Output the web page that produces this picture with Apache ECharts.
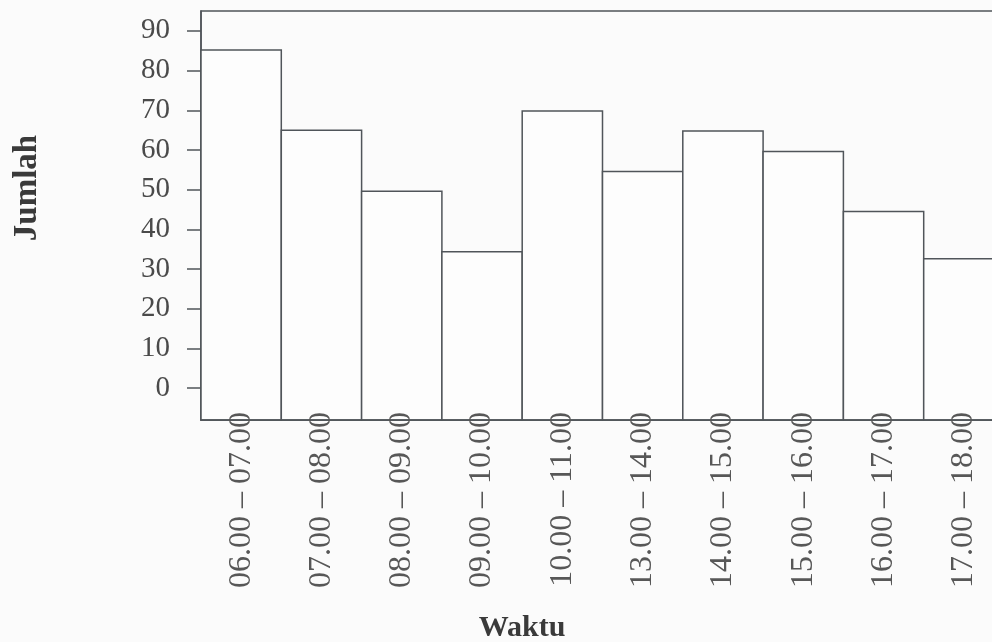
<!DOCTYPE html>
<html>
<head>
<meta charset="utf-8">
<script src="https://cdn.jsdelivr.net/npm/echarts@6/dist/echarts.min.js"></script>
<style>
html,body{margin:0;padding:0;background:#fbfbfb;}
#chart{width:992px;height:642px;}
</style>
</head>
<body>
<div id="chart"></div>
<script>
const categories = ['06.00 – 07.00','07.00 – 08.00','08.00 – 09.00','09.00 – 10.00','10.00 – 11.00','13.00 – 14.00','14.00 – 15.00','15.00 – 16.00','16.00 – 17.00','17.00 – 18.00'];
const jumlah = [85.2, 65, 49.6, 34.4, 69.8, 54.6, 64.8, 59.6, 44.5, 32.6];
const yTicks = [0, 10, 20, 30, 40, 50, 60, 70, 80, 90];
const xTitle = 'Waktu';
const yTitle = 'Jumlah';

const yMin = -8, yMax = 95;
const lineColor = '#50555a';
const textColor = '#4a4a4a';
const serif = '"Liberation Serif", "DejaVu Serif", serif';

const chart = echarts.init(document.getElementById('chart'));
chart.setOption({
  backgroundColor: '#fbfbfb',
  animation: false,
  grid: {
    left: 201, top: 11, width: 803, height: 409,
    outerBoundsMode: 'none', containLabel: false,
    show: true, borderColor: lineColor, borderWidth: 1.5, backgroundColor: 'transparent'
  },
  xAxis: {
    type: 'category',
    data: categories,
    z: 10,
    axisLine: { show: true, onZero: false, lineStyle: { color: lineColor, width: 1.5 } },
    axisTick: { show: false },
    axisLabel: {
      rotate: 90, margin: -8, interval: 0,
      color: '#575757', fontFamily: serif, fontSize: 32
    }
  },
  yAxis: {
    type: 'value',
    min: yMin, max: yMax,
    splitLine: { show: false },
    axisLine: { show: true, lineStyle: { color: lineColor, width: 1.5 } },
    axisTick: { show: true, length: 14, customValues: yTicks, lineStyle: { color: lineColor, width: 1.5 } },
    axisLabel: { customValues: yTicks, margin: 31, color: textColor, fontFamily: serif, fontSize: 29 }
  },
  series: [{
    type: 'custom',
    data: jumlah.map((v, i) => [i, v]),
    encode: { x: 0, y: 1 },
    renderItem: function (params, api) {
      const top = api.coord([api.value(0), api.value(1)]);
      const bottom = api.coord([api.value(0), yMin]);
      const w = api.size([1, 0])[0];
      return {
        type: 'rect',
        shape: { x: top[0] - w / 2, y: top[1], width: w, height: bottom[1] - top[1] },
        style: { fill: '#fdfdfd', stroke: lineColor, lineWidth: 1.5 }
      };
    }
  }],
  graphic: [
    { type: 'text', x: 522, y: 628, style: { text: xTitle, font: 'bold 30px ' + serif, fill: '#3a3a3a', align: 'center', verticalAlign: 'middle' } },
    { type: 'text', x: 27, y: 188, rotation: Math.PI / 2, style: { text: yTitle, font: 'bold 33px ' + serif, fill: '#3a3a3a', align: 'center', verticalAlign: 'middle' } }
  ]
});
</script>
</body>
</html>
